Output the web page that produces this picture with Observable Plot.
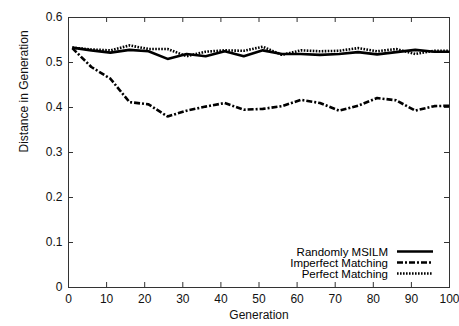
<!DOCTYPE html>
<html><head>
<meta charset="utf-8">
<script src="https://cdn.jsdelivr.net/npm/d3@7"></script>
<script src="https://cdn.jsdelivr.net/npm/@observablehq/plot@0.6"></script>
<style>
body{margin:0;background:#fff}
#c{width:459px;height:326px;font-family:"Liberation Sans",Arial,sans-serif}
</style>
</head><body><div id="c"></div>
<script>
const generations = [1,6,11,16,21,26,31,36,41,46,51,56,61,66,71,76,81,86,91,96,100];
const randomlyMSILM = [0.533,0.527,0.522,0.528,0.525,0.508,0.519,0.514,0.525,0.514,0.527,0.519,0.519,0.517,0.519,0.523,0.518,0.523,0.528,0.524,0.524];
const imperfectMatching = [0.532,0.490,0.464,0.412,0.407,0.380,0.393,0.402,0.410,0.395,0.397,0.403,0.417,0.410,0.393,0.404,0.421,0.416,0.393,0.403,0.404];
const perfectMatching = [0.533,0.529,0.527,0.538,0.530,0.530,0.514,0.524,0.527,0.526,0.535,0.517,0.527,0.525,0.526,0.532,0.525,0.530,0.519,0.526,0.526];
const seriesNames = ["Randomly MSILM","Imperfect Matching","Perfect Matching"];
const xTicks = [0,10,20,30,40,50,60,70,80,90,100];
const yTicks = [0,0.1,0.2,0.3,0.4,0.5,0.6];
const xLabel = "Generation";
const yLabel = "Distance in Generation";

const seriesValues = [randomlyMSILM, imperfectMatching, perfectMatching];
const dashes = ["none", "6,2,2,2", "1.6,1.4"];
const rows = seriesValues.map((vals, si) => generations.map((g, i) => ({series: seriesNames[si], x: g, y: vals[i]})));

const W = 459, H = 326, mL = 68, mR = 10, mT = 17, mB = 39;
const innerW = W - mL - mR, innerH = H - mT - mB;
const font = '"Liberation Sans",Arial,sans-serif';

const chart = Plot.plot({
  width: W, height: H,
  marginLeft: mL, marginRight: mR, marginTop: mT, marginBottom: mB,
  style: {fontFamily: font, fontSize: "12px", color: "#111", background: "#fff"},
  x: {domain: [0, 100]},
  y: {domain: [0, 0.6]},
  marks: [
    Plot.axisX({ticks: xTicks, tickSize: 0, tickPadding: 7, label: null, tickFormat: d => String(d), fontSize: 12}),
    Plot.axisY({ticks: yTicks, tickSize: 0, tickPadding: 6, label: null, tickFormat: d => String(d), fontSize: 12}),
    Plot.tickX(xTicks, {x: d => d, insetTop: innerH - 5, stroke: "#333"}),
    Plot.tickX(xTicks, {x: d => d, insetBottom: innerH - 5, stroke: "#333"}),
    Plot.tickY(yTicks, {y: d => d, insetRight: innerW - 5, stroke: "#333"}),
    Plot.tickY(yTicks, {y: d => d, insetLeft: innerW - 5, stroke: "#333"}),
    Plot.frame({stroke: "#333"}),
    ...rows.map((r, i) => Plot.line(r, {x: "x", y: "y", stroke: "#000", strokeWidth: 2.6, strokeLinejoin: "miter", strokeLinecap: "butt", strokeDasharray: dashes[i]})),
    Plot.text([xLabel], {frameAnchor: "bottom", dy: 31, text: d => d, fontSize: 12}),
    Plot.text([yLabel], {frameAnchor: "left", dx: -44, rotate: -90, text: d => d, fontSize: 12})
  ]
});
document.getElementById("c").appendChild(chart);

// legend
const svg = d3.select(chart);
const lg = svg.append("g").attr("font-family", font).attr("font-size", 11.5);
const textRight = 388, lineX1 = 397, lineX2 = 433, rowY = [251.5, 262.5, 273.5];
seriesNames.forEach((name, i) => {
  lg.append("text").attr("x", textRight).attr("y", rowY[i]).attr("dy", "0.35em")
    .attr("text-anchor", "end").attr("fill", "#000").text(name);
  lg.append("line").attr("x1", lineX1).attr("x2", lineX2).attr("y1", rowY[i]).attr("y2", rowY[i])
    .attr("stroke", "#000").attr("stroke-width", 2.6).attr("stroke-dasharray", dashes[i]);
});
</script>
</body></html>
